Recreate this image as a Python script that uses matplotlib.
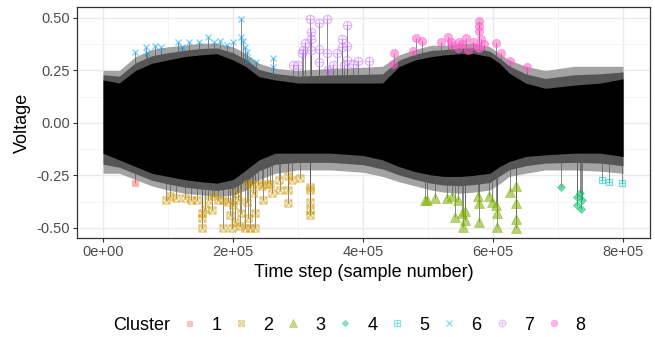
import numpy as np
import matplotlib
matplotlib.use("Agg")
import matplotlib.pyplot as plt
from matplotlib.path import Path
from matplotlib.lines import Line2D

plt.rcParams["font.family"] = ["Liberation Sans", "DejaVu Sans"]

# signal envelope (x in samples)
env_x = [0, 25000, 50000, 75000, 100000, 125000, 150000, 175000, 200000,
         220000, 240000, 265000, 300000, 350000, 400000, 430000, 455000,
         480000, 505000, 525000, 550000, 570000, 595000, 610000, 625000,
         650000, 680000, 725000, 765000, 800000]
upper_tip = [0.25, 0.25, 0.316, 0.35, 0.363, 0.37, 0.38, 0.38, 0.363,
             0.33, 0.284, 0.26, 0.25, 0.26, 0.265, 0.27, 0.324,
             0.35, 0.37, 0.37, 0.38, 0.38, 0.363, 0.33, 0.30,
             0.27, 0.25, 0.27, 0.27, 0.27]
upper_core = [0.205, 0.19, 0.25, 0.284, 0.30, 0.316, 0.324, 0.33, 0.30,
              0.268, 0.22, 0.205, 0.19, 0.19, 0.19, 0.19, 0.268,
              0.30, 0.316, 0.324, 0.33, 0.33, 0.316, 0.284, 0.237,
              0.19, 0.165, 0.18, 0.19, 0.21]
lower_core = [-0.144, -0.176, -0.208, -0.24, -0.255, -0.27, -0.28, -0.287, -0.27,
              -0.224, -0.176, -0.144, -0.144, -0.144, -0.155, -0.176, -0.208,
              -0.232, -0.248, -0.255, -0.255, -0.25, -0.24, -0.208, -0.184,
              -0.16, -0.152, -0.144, -0.144, -0.16]
lower_tip = [-0.24, -0.24, -0.27, -0.30, -0.32, -0.335, -0.343, -0.35, -0.343,
             -0.32, -0.27, -0.24, -0.224, -0.224, -0.235, -0.255, -0.28,
             -0.30, -0.32, -0.33, -0.335, -0.33, -0.32, -0.29, -0.255,
             -0.24, -0.224, -0.224, -0.23, -0.24]

# anomaly points per cluster
c1_x = [49000]
c1_y = [-0.286]

c2_x = [96400, 103000, 113000, 126000, 136000, 144000, 151800, 151800, 151800,
        157000, 162000, 167000, 170000, 177000, 184000, 184000, 193000, 195000,
        198000, 200500, 203000, 205700, 208000, 211000, 213000, 218000, 221000,
        221000, 223500, 226000, 229000, 231000, 234000, 234000, 239000, 244000,
        246600, 252000, 257000, 259500, 270000, 272000, 285000, 285000, 285000,
        290000, 303000, 318500, 318500, 318500, 318500, 318500]
c2_y = [-0.367, -0.35, -0.359, -0.359, -0.367, -0.367, -0.43, -0.455, -0.50,
        -0.41, -0.367, -0.415, -0.35, -0.367, -0.50, -0.367, -0.375, -0.44,
        -0.50, -0.39, -0.47, -0.335, -0.367, -0.49, -0.43, -0.50, -0.29,
        -0.375, -0.455, -0.50, -0.29, -0.335, -0.43, -0.50, -0.29, -0.30,
        -0.367, -0.29, -0.29, -0.335, -0.27, -0.32, -0.255, -0.32, -0.38,
        -0.27, -0.263, -0.303, -0.32, -0.375, -0.415, -0.44]

c3_x = [495400, 499000, 510800, 528700, 536500, 541500, 546700, 551800, 554400,
        557000, 557000, 577400, 578500, 579000, 594300, 598000, 604600, 605600,
        605600, 626000, 635000, 635000, 635000, 635000]
c3_y = [-0.367, -0.367, -0.359, -0.359, -0.348, -0.446, -0.367, -0.427, -0.494,
        -0.462, -0.42, -0.35, -0.382, -0.47, -0.35, -0.375, -0.39, -0.43,
        -0.498, -0.327, -0.30, -0.38, -0.46, -0.50]

c4_x = [704000, 728700, 728700, 734000, 735400, 736500]
c4_y = [-0.303, -0.354, -0.39, -0.335, -0.41, -0.367]

c5_x = [767000, 778500, 798000]
c5_y = [-0.27, -0.283, -0.288]

c6_x = [49200, 66000, 67000, 80000, 88700, 115000, 121000, 132000, 147000,
        162000, 170000, 180000, 190000, 200500, 213000, 213000, 216000, 218000,
        221000, 223500, 235000, 262000, 262000]
c6_y = [0.338, 0.363, 0.335, 0.368, 0.363, 0.384, 0.363, 0.384, 0.387,
        0.408, 0.384, 0.39, 0.37, 0.384, 0.495, 0.408, 0.39, 0.363,
        0.34, 0.30, 0.29, 0.31, 0.265]

c7_x = [293000, 299500, 305500, 308000, 311000, 318500, 319500, 319500, 319500,
        332000, 332000, 332000, 345000, 345000, 346000, 354000, 359500, 368000,
        368000, 370800, 376000, 376000, 376000, 385000, 393000, 409000]
c7_y = [0.276, 0.276, 0.332, 0.348, 0.379, 0.495, 0.432, 0.40, 0.346,
        0.478, 0.35, 0.288, 0.495, 0.332, 0.25, 0.276, 0.332, 0.398,
        0.36, 0.276, 0.465, 0.365, 0.30, 0.281, 0.297, 0.297]

c8_x = [445600, 448000, 477000, 481000, 491000, 520000, 530000, 535000, 537500,
        545700, 548000, 553000, 559000, 561000, 569000, 575000, 579000, 579000,
        579000, 579000, 582000, 586700, 604600, 611800, 626000, 652000]
c8_y = [0.281, 0.332, 0.343, 0.406, 0.392, 0.384, 0.411, 0.387, 0.37,
        0.356, 0.384, 0.375, 0.403, 0.348, 0.387, 0.363, 0.487, 0.46,
        0.44, 0.356, 0.398, 0.375, 0.379, 0.332, 0.297, 0.268]

clusters = ["1", "2", "3", "4", "5", "6", "7", "8"]
colors = ["#F8766D", "#CD9600", "#7CAE00", "#00BE67",
          "#00BFC4", "#00A9FF", "#C77CFF", "#FF61CC"]

# composite open markers like ggplot shapes 7, 12, 10
sq = [(-1, -1), (1, -1), (1, 1), (-1, 1), (-1, -1)]
sq_codes = [Path.MOVETO] + [Path.LINETO] * 3 + [Path.CLOSEPOLY]
square_x = Path(sq + [(-1, -1), (1, 1), (-1, 1), (1, -1)],
                sq_codes + [Path.MOVETO, Path.LINETO, Path.MOVETO, Path.LINETO])
square_plus = Path(sq + [(-1, 0), (1, 0), (0, -1), (0, 1)],
                   sq_codes + [Path.MOVETO, Path.LINETO, Path.MOVETO, Path.LINETO])
circ = Path.unit_circle()
cross = Path([(-1, 0), (1, 0), (0, -1), (0, 1)],
             [Path.MOVETO, Path.LINETO, Path.MOVETO, Path.LINETO])
circle_plus = Path.make_compound_path(circ, cross)

styles = [
    dict(marker="s", ms=4.5, filled=True),
    dict(marker=square_x, ms=5, filled=False),
    dict(marker="^", ms=6.5, filled=True),
    dict(marker="D", ms=4, filled=True),
    dict(marker=square_plus, ms=5, filled=False),
    dict(marker="x", ms=5, filled=False),
    dict(marker=circle_plus, ms=6, filled=False),
    dict(marker="o", ms=6, filled=True),
]
data = [(c1_x, c1_y), (c2_x, c2_y), (c3_x, c3_y), (c4_x, c4_y),
        (c5_x, c5_y), (c6_x, c6_y), (c7_x, c7_y), (c8_x, c8_y)]

fig = plt.figure(figsize=(6.55, 3.37), dpi=100)
ax = fig.add_axes([0.1176, 0.294, 0.8748, 0.685])

ut, uc = np.array(upper_tip), np.array(upper_core)
lt, lc = np.array(lower_tip), np.array(lower_core)
# soft fringe: light outer band, darker inner band, black core
ax.fill_between(env_x, lt, ut, color="#a3a3a3", lw=0, zorder=2)
ax.fill_between(env_x, lc + 0.55 * (lt - lc), uc + 0.55 * (ut - uc),
                color="#555555", lw=0, zorder=2.2)
ax.fill_between(env_x, lc, uc, color="black", lw=0, zorder=3)

handles = []
for (xs, ys), st, col, lab in zip(data, styles, colors, clusters):
    ax.vlines(xs, 0, ys, color="#5a5a5a", lw=0.5, zorder=2.5)
    if st["filled"]:
        kw = dict(mfc=col, mec=col, mew=0.5)
    else:
        kw = dict(mfc="none", mec=col, mew=0.9)
    ax.plot(xs, ys, ls="none", marker=st["marker"], ms=st["ms"], alpha=0.55,
            zorder=4, **kw)
    handles.append(Line2D([], [], ls="none", marker=st["marker"],
                          ms=st["ms"] * 0.8, alpha=0.45, label=lab, **kw))

ax.set_xlim(-40000, 841500)
ax.set_ylim(-0.548, 0.552)
ax.set_xticks([0, 200000, 400000, 600000, 800000])
ax.set_xticklabels(["0e+00", "2e+05", "4e+05", "6e+05", "8e+05"])
ax.set_xticks([100000, 300000, 500000, 700000], minor=True)
ax.set_yticks([-0.5, -0.25, 0, 0.25, 0.5])
ax.set_yticklabels(["-0.50", "-0.25", "0.00", "0.25", "0.50"])
ax.set_yticks([-0.375, -0.125, 0.125, 0.375], minor=True)
ax.grid(True, which="major", color="#EBEBEB", lw=1.0, zorder=0)
ax.grid(True, which="minor", color="#F3F3F3", lw=0.6, zorder=0)
ax.set_axisbelow(True)
ax.tick_params(which="major", length=3, width=0.8, color="#333333",
               labelsize=10.5, labelcolor="#4D4D4D", pad=2)
ax.tick_params(which="minor", length=0)
for s in ax.spines.values():
    s.set_color("#333333")
    s.set_linewidth(0.9)

ax.set_xlabel("Time step (sample number)", fontsize=13, labelpad=4)
ax.set_ylabel("Voltage", fontsize=13, labelpad=4)

fig.text(113 / 655, 1 - 325 / 337, "Cluster", fontsize=13, va="center")
fig.legend(handles=handles, loc="center left", ncol=8, frameon=False,
           bbox_to_anchor=(180 / 655, 1 - 325 / 337), fontsize=13,
           handlelength=1.0, handletextpad=0.73, columnspacing=0.6,
           borderpad=0, borderaxespad=0)

fig.savefig("out.png", dpi=100)
